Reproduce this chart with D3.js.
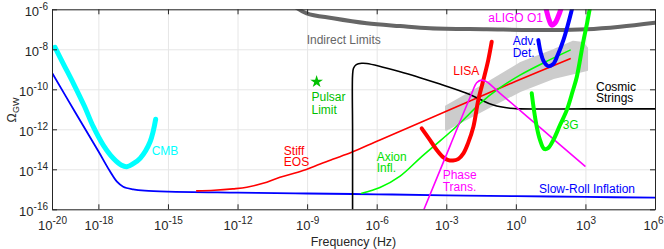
<!DOCTYPE html>
<html><head><meta charset="utf-8">
<script src="https://cdn.jsdelivr.net/npm/d3@7"></script>
<style>body{margin:0;background:#fff}svg{display:block}text{font-family:"Liberation Sans",Arial,Helvetica,sans-serif}</style>
</head><body><svg id="c" width="664" height="249"></svg>
<script>
// ---- data: pairs of [log10 frequency (Hz), log10 Omega_GW] ----
const xTickExps = [-20,-18,-15,-12,-9,-6,-3,0,3,6];
const yTickExps = [-16,-14,-12,-10,-8,-6];

const slowRoll = [[-20,-9.17],[-19,-11.15],[-18,-13.1],[-17.5,-14.1],[-17.2,-14.62],[-16.93,-14.87],[-16.5,-15.0],[-16,-15.07],[-15,-15.12],[-12,-15.17],[-9,-15.21],[-6,-15.25],[-3,-15.3],[0,-15.34],[3,-15.38],[6,-15.42]];
const cmb = [[-19.87,-7.9],[-19.5,-8.75],[-19.08,-9.7],[-18.6,-10.85],[-18.22,-11.87],[-17.79,-12.79],[-17.36,-13.45],[-17.0,-13.8],[-16.78,-13.87],[-16.5,-13.72],[-16.2,-13.45],[-15.77,-12.62],[-15.53,-11.5]];
const stiffEOS = [[-13.76,-15.08],[-13,-15.05],[-12.2,-14.98],[-11.6,-14.9],[-10.9,-14.7],[-10.17,-14.4],[-9.4,-14.15],[-8.73,-13.87],[-7.9,-13.5],[-7.08,-13.15],[-5.86,-12.53],[-3,-11.1],[0,-9.6],[2.34,-8.47]];
const cosmicStrings = [[-7.04,-16],[-7.04,-12],[-7.04,-9.3],[-7.0,-8.95],[-6.88,-8.77],[-6.65,-8.7],[-6.43,-8.71],[-4.99,-9.12],[-4.13,-9.42],[-3.27,-9.74],[-2.12,-10.2],[-1.55,-10.5],[-0.97,-10.79],[-0.25,-10.95],[0.18,-10.98],[3,-10.98],[6,-10.98]];
const indirect = [[-9.55,-5.85],[-9.02,-6.2],[-7.88,-6.45],[-6.43,-6.7],[-4.99,-6.84],[-3.7,-6.95],[-1.26,-7.0],[1.6,-7.04],[3.06,-7.0],[4.49,-6.87],[6,-6.67]];
const axion = [[-6.645,-15.2],[-5.86,-14.91],[-4.99,-14.34],[-4.13,-13.44],[-3.48,-12.79],[-2.75,-12.06],[-2.15,-11.4],[-1.54,-10.7],[-0.68,-9.92],[0.18,-9.29],[1.26,-8.64],[2.34,-8.04]];
const bbhBandUpper = [[-3.01,-10.85],[-1.26,-9.7],[0.18,-8.7],[1.62,-8.04],[2.47,-7.62],[2.9,-7.69],[3.07,-7.94]];
const bbhBandLower = [[3.07,-9.04],[1.62,-9.44],[0.18,-10.09],[-1.26,-10.95],[-3.01,-12.03]];
const lisa = [[-4.06,-11.95],[-3.70,-12.54],[-3.41,-13.04],[-3.14,-13.39],[-2.91,-13.54],[-2.71,-13.56],[-2.49,-13.49],[-2.26,-13.2],[-2.06,-12.69],[-1.83,-11.87],[-1.62,-10.54],[-1.40,-9.54],[-1.19,-8.54],[-1.04,-7.62]];
const phaseTrans = [[-3.96,-16],[-2.84,-12.84],[-1.9,-10.2],[-1.69,-9.67],[-1.47,-9.54],[-1.26,-9.62],[-0.68,-10.2],[1.15,-12.02],[2.98,-13.84]];
const aligoO1 = [[1.22,-5.5],[1.33,-6.1],[1.44,-6.55],[1.55,-6.79],[1.68,-6.7],[1.83,-6.35],[1.98,-5.85],[2.06,-5.5]];
const advDet = [[0.97,-7.54],[1.08,-8.2],[1.2,-8.6],[1.39,-8.84],[1.6,-8.75],[1.8,-8.3],[2.05,-7.54],[2.25,-6.75],[2.45,-5.85]];
const thirdGen = [[0.685,-10.2],[0.78,-11.03],[0.91,-11.93],[1.04,-12.53],[1.22,-12.98],[1.39,-12.94],[1.62,-12.53],[1.9,-11.8],[2.2,-11.03],[2.45,-10.1],[2.63,-9.37],[2.91,-7.6],[3.07,-6.7],[3.2,-5.9],[3.28,-5.5]];
const pulsarLimit = [[-8.59,-9.62]];

// ---- setup ----
const L=52,R=655,T=9.3,B=209.3;
const x=d3.scaleLog().domain([1e-20,1e6]).range([L,R]);
const y=d3.scaleLog().domain([1e-16,1e-6]).range([B,T]);
const P=a=>a.map(([lf,lo])=>[Math.pow(10,lf),Math.pow(10,lo)]);
const svg=d3.select('#c');
const xTicks=xTickExps.map(e=>Math.pow(10,e)), yTicks=yTickExps.map(e=>Math.pow(10,e));

svg.append('defs').append('clipPath').attr('id','clip').append('rect').attr('x',L).attr('y',T).attr('width',R-L).attr('height',B-T);

// grid
svg.append('g').attr('transform',`translate(0,${B})`)
 .call(d3.axisBottom(x).tickValues(xTicks).tickSize(-(B-T)).tickFormat(''))
 .call(g=>{g.select('.domain').remove();g.selectAll('line').attr('stroke','#e6e6e6');});
svg.append('g').attr('transform',`translate(${L},0)`)
 .call(d3.axisLeft(y).tickValues(yTicks).tickSize(-(R-L)).tickFormat(''))
 .call(g=>{g.select('.domain').remove();g.selectAll('line').attr('stroke','#e6e6e6');});

const plot=svg.append('g').attr('clip-path','url(#clip)');
const line=d3.line().x(d=>x(d[0])).y(d=>y(d[1])).curve(d3.curveCatmullRom.alpha(0.5));
const lin=d3.line().x(d=>x(d[0])).y(d=>y(d[1]));

// band
plot.append('path').attr('d',lin(P(bbhBandUpper.concat(bbhBandLower)))+'Z').attr('fill','#cccccc').attr('stroke','#cccccc').attr('stroke-width',2).attr('stroke-linejoin','round');

function draw(data,color,w){plot.append('path').attr('d',line(P(data))).attr('fill','none').attr('stroke',color).attr('stroke-width',w).attr('stroke-linecap','round').attr('stroke-linejoin','round');}
draw(indirect,'#666666',4);
draw(cmb,'#00ffff',5);
draw(slowRoll,'#0000ff',1.8);
draw(stiffEOS,'#ff0000',1.6);
draw(cosmicStrings,'#000000',1.6);
draw(axion,'#00ff00',1.6);
draw(lisa,'#ff0000',4);
draw(phaseTrans,'#ff00ff',1.6);
draw(aligoO1,'#ff00ff',5);
draw(advDet,'#0000ff',4);
draw(thirdGen,'#00ff00',4);

svg.append('g').selectAll('path').data(P(pulsarLimit)).join('path')
 .attr('transform',d=>`translate(${x(d[0])},${y(d[1])})`)
 .attr('d',d3.symbol(d3.symbolStar).size(50)()).attr('fill','#00c000');

// axes (box with inward ticks)
const axc='#262626';
function styleAx(g){g.select('.domain').attr('stroke',axc);g.selectAll('.tick line').attr('stroke',axc);g.selectAll('.tick text').remove();}
const gx=svg.append('g').attr('transform',`translate(0,${B})`).call(d3.axisBottom(x).tickValues(xTicks).tickSizeInner(-5).tickSizeOuter(0)).call(styleAx);
svg.append('g').attr('transform',`translate(0,${T})`).call(d3.axisTop(x).tickValues(xTicks).tickSizeInner(-5).tickSizeOuter(0)).call(styleAx);
const gy=svg.append('g').attr('transform',`translate(${L},0)`).call(d3.axisLeft(y).tickValues(yTicks).tickSizeInner(-5).tickSizeOuter(0)).call(styleAx);
svg.append('g').attr('transform',`translate(${R},0)`).call(d3.axisRight(y).tickValues(yTicks).tickSizeInner(-5).tickSizeOuter(0)).call(styleAx);

function pow(t,e){t.append('tspan').text('10');t.append('tspan').attr('dy',-6).attr('font-size',10).text(String(e));}
gx.selectAll('.tick').each(function(d,i,n){const last=i===n.length-1;const t=d3.select(this).append('text').attr('x',last?8:0).attr('y',230.5-B).attr('text-anchor',last?'end':'middle').attr('fill',axc).attr('font-size',13);pow(t,Math.round(Math.log10(d)));});
gy.selectAll('.tick').each(function(d){const t=d3.select(this).append('text').attr('x',-4).attr('y',6.5).attr('text-anchor','end').attr('fill',axc).attr('font-size',13);pow(t,Math.round(Math.log10(d)));});

svg.append('text').attr('x',(L+R)/2).attr('y',246).attr('text-anchor','middle').attr('font-size',12.4).attr('fill',axc).text('Frequency (Hz)');
const yl=svg.append('text').attr('transform','translate(15.5,110) rotate(-90)').attr('text-anchor','middle').attr('font-size',12.4).attr('fill',axc);
yl.append('tspan').text('Ω');yl.append('tspan').attr('dy',3).attr('font-size',9).text('GW');

// annotations: [lines, x, first baseline, line step, colour]
const labels=[
 [['Indirect Limits'],306.7,43.5,0,'#666666'],
 [['Pulsar','Limit'],311.5,100.5,13.5,'#00c000'],
 [['CMB'],151.7,155.3,0,'#00ffff'],
 [['Stiff','EOS'],283.8,155,11.3,'#ff0000'],
 [['Axion','Infl.'],376.7,160.5,11.3,'#00e000'],
 [['LISA'],453.3,75,0,'#ff0000'],
 [['Phase','Trans.'],442.7,179,12,'#ff00ff'],
 [['aLIGO O1'],488.3,21.7,0,'#ff00ff'],
 [['Adv.','Det.'],512.7,45.3,11.6,'#0000ff'],
 [['Cosmic','Strings'],596,91,11.3,'#000000'],
 [['3G'],562.7,129,0,'#00e000'],
 [['Slow-Roll Inflation'],539,193.3,0,'#0000ff']
];
svg.append('g').selectAll('text').data(labels).join('text')
 .attr('x',d=>d[1]).attr('y',d=>d[2]).attr('fill',d=>d[4]).attr('font-size',12)
 .each(function(d){const t=d3.select(this);d[0].forEach((s,i)=>t.append('tspan').attr('x',d[1]).attr('dy',i?d[3]:0).text(s));});
</script></body></html>
